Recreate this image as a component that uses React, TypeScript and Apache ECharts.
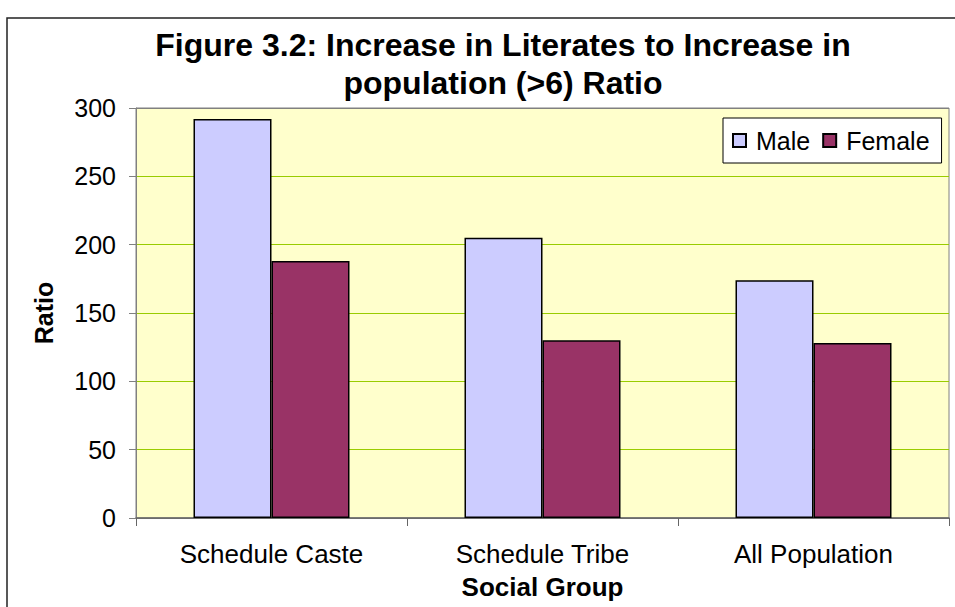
import React, { useEffect, useRef } from "react";
import * as echarts from "echarts";

const categories = ["Schedule Caste", "Schedule Tribe", "All Population"];
const maleValues = [292, 205, 174];
const femaleValues = [188, 130, 128];
const seriesNames = ["Male", "Female"];
const yTicks = { min: 0, max: 300, interval: 50 };

const FONT = "'Liberation Sans', Arial, sans-serif";

export default function App() {
  const ref = useRef<HTMLDivElement>(null);
  useEffect(() => {
    if (!ref.current) return;
    const chart = echarts.init(ref.current, undefined, { renderer: "svg" });
    chart.setOption({
      animation: false,
      backgroundColor: "#ffffff",
      textStyle: { fontFamily: FONT },
      title: {
        text: "Figure 3.2: Increase in Literates to Increase in\npopulation (>6) Ratio",
        left: 503,
        top: 26,
        textAlign: "center",
        padding: 0,
        textStyle: {
          fontFamily: FONT,
          fontSize: 32,
          fontWeight: "bold",
          color: "#000",
          lineHeight: 38,
        },
      },
      legend: {
        data: seriesNames,
        left: 723,
        top: 118,
        padding: [10, 12, 10, 9],
        itemGap: 12,
        itemWidth: 13,
        itemHeight: 13,
        icon: "rect",
        backgroundColor: "#ffffff",
        borderColor: "#000",
        borderWidth: 1,
        borderRadius: 0,
        textStyle: { fontFamily: FONT, fontSize: 25, color: "#000", padding: [0, 0, 0, 5] },
      },
      grid: {
        left: 136,
        top: 108,
        right: 6,
        bottom: 89,
        show: true,
        backgroundColor: "#FFFFCC",
        borderColor: "#808080",
        borderWidth: 1,
      },
      xAxis: {
        type: "category",
        data: categories,
        name: "Social Group",
        nameLocation: "middle",
        nameGap: 56,
        nameTextStyle: { fontFamily: FONT, fontSize: 26, fontWeight: "bold", color: "#000", verticalAlign: "top" },
        axisLine: { lineStyle: { color: "#666", width: 1.5 } },
        axisTick: { show: true, length: 8, lineStyle: { color: "#666" } },
        axisLabel: { fontFamily: FONT, fontSize: 26, color: "#000", margin: 23 },
      },
      yAxis: {
        type: "value",
        min: yTicks.min,
        max: yTicks.max,
        interval: yTicks.interval,
        name: "Ratio",
        nameLocation: "middle",
        nameGap: 80,
        nameTextStyle: { fontFamily: FONT, fontSize: 25, fontWeight: "bold", color: "#000" },
        axisLine: { show: true, lineStyle: { color: "#808080", width: 1 } },
        axisTick: { show: true, length: 7, lineStyle: { color: "#808080" } },
        axisLabel: { fontFamily: FONT, fontSize: 25, color: "#000", margin: 20 },
        splitLine: {
          show: true,
          lineStyle: {
            color: ["#808080", "#99CC00", "#99CC00", "#99CC00", "#99CC00", "#99CC00", "#808080"],
            width: 1,
          },
        },
      },
      series: [
        {
          name: seriesNames[0],
          type: "bar",
          data: maleValues,
          barWidth: 78,
          barGap: "0%",
          itemStyle: { color: "#CCCCFF", borderColor: "#000", borderWidth: 1.5 },
        },
        {
          name: seriesNames[1],
          type: "bar",
          data: femaleValues,
          barWidth: 78,
          barGap: "0%",
          itemStyle: { color: "#993366", borderColor: "#000", borderWidth: 1.5 },
        },
      ],
      graphic: [
        {
          type: "rect",
          shape: { x: 7, y: 18, width: 960, height: 600 },
          style: { fill: "none", stroke: "#222", lineWidth: 1.5 },
          silent: true,
          z: 100,
        },
      ],
    });
    return () => chart.dispose();
  }, []);
  return (
    <div
      ref={ref}
      style={{ position: "fixed", left: 0, top: 0, width: 955, height: 607 }}
    />
  );
}
